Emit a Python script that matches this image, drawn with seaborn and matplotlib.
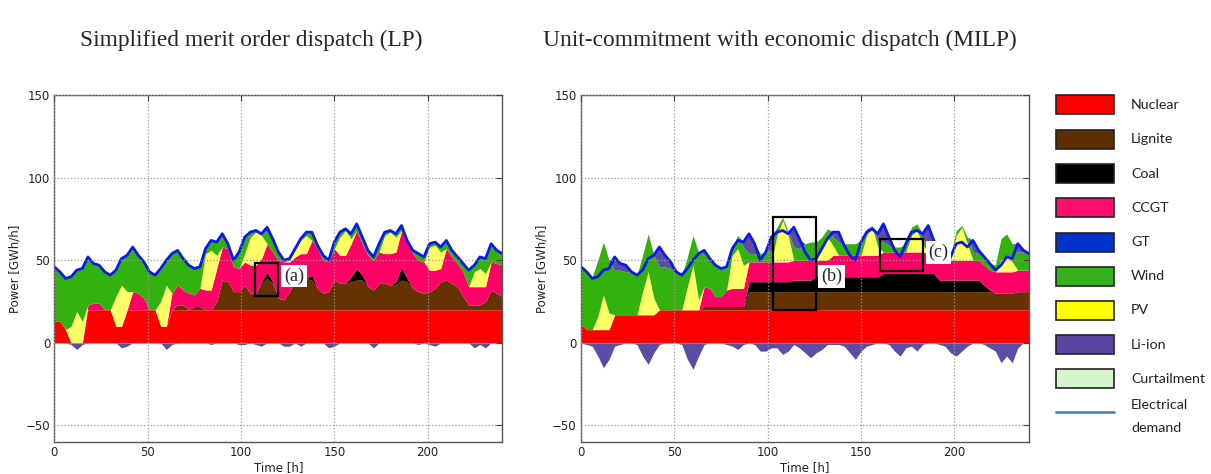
import numpy as np
import matplotlib
matplotlib.use("Agg")
import matplotlib.pyplot as plt
import seaborn as sns
from matplotlib.patches import Rectangle

# ---------------- data (3-hourly samples, hours 0..240) ----------------
hours = np.arange(0, 241, 3)

demand = [46, 43, 39, 40, 44, 45, 52, 48,
          47, 43, 41, 44, 51, 53, 58, 53,
          49, 43, 41, 45, 50, 54, 56, 51,
          47, 45, 46, 57, 62, 61, 66, 60,
          50, 55, 64, 67, 68, 66, 70, 63,
          55, 50, 51, 57, 63, 67, 67, 59,
          53, 50, 61, 67, 69, 66, 72, 64,
          56, 52, 60, 67, 68, 66, 71, 62,
          56, 54, 52, 60, 61, 58, 62, 56,
          52, 48, 44, 47, 52, 51, 60, 56,
          54]

# --- LP (simplified merit order) ---
lp_nuclear = [13, 13, 8, 0, 0, 0, 20, 20,
              20, 20, 20, 10, 10, 20, 20, 20,
              20, 20, 20, 10, 10, 20, 20, 20,
              20, 20, 20, 20, 20, 20, 20, 20,
              20, 20, 20, 20, 20, 20, 20, 20,
              20, 20, 20, 20, 20, 20, 20, 20,
              20, 20, 20, 20, 20, 20, 20, 20,
              20, 20, 20, 20, 20, 20, 20, 20,
              20, 20, 20, 20, 20, 20, 20, 20,
              20, 20, 20, 20, 20, 20, 20, 20,
              20]
lp_lignite = [0, 0, 0, 0, 0, 0, 0, 0,
              0, 0, 0, 0, 0, 0, 0, 0,
              0, 0, 0, 0, 0, 0, 3, 3,
              0, 2, 2, 0, 0, 5, 18, 17,
              11, 11, 15, 10, 10, 16, 19, 16,
              7, 6, 11, 18, 19, 19, 18, 13,
              10, 11, 18, 16, 16, 17, 18, 18,
              14, 12, 16, 16, 15, 15, 18, 17,
              13, 11, 10, 11, 13, 17, 18, 16,
              14, 8, 3, 3, 3, 5, 12, 10,
              8]
lp_coal = [0, 0, 0, 0, 0, 0, 0, 0,
           0, 0, 0, 0, 0, 0, 0, 0,
           0, 0, 0, 0, 0, 0, 0, 0,
           0, 0, 0, 0, 0, 0, 0, 0,
           0, 0, 0, 0, 0, 1, 4, 1,
           0, 0, 0, 0, 0, 0, 3, 0,
           0, 0, 0, 0, 0, 3, 7, 3,
           0, 0, 0, 0, 0, 2, 8, 2,
           0, 0, 0, 0, 0, 0, 0, 0,
           0, 0, 0, 0, 0, 0, 0, 0,
           0]
lp_ccgt = [0, 0, 0, 0, 0, 0, 3, 4,
           4, 0, 0, 0, 0, 0, 11, 10,
           7, 0, 0, 0, 0, 10, 12, 9,
           10, 7, 11, 12, 12, 20, 20, 20,
           15, 14, 14, 17, 17, 14, 17, 18,
           23, 23, 18, 14, 15, 15, 21, 24,
           20, 18, 19, 17, 17, 20, 23, 19,
           19, 18, 19, 18, 19, 18, 22, 22,
           21, 19, 19, 13, 11, 8, 19, 16,
           14, 15, 11, 11, 11, 9, 17, 18,
           19]
lp_pv = [0, 0, 0, 10, 19, 13, 0, 0,
         0, 0, 0, 18, 25, 11, 0, 0,
         0, 0, 0, 15, 25, 0, 0, 0,
         0, 0, 0, 22, 24, 8, 0, 0,
         0, 0, 5, 17, 20, 14, 0, 0,
         0, 0, 1, 4, 8, 11, 0, 0,
         0, 0, 0, 11, 15, 3, 0, 0,
         0, 0, 0, 11, 13, 9, 0, 0,
         0, 0, 0, 14, 15, 10, 0, 0,
         0, 0, 0, 9, 11, 8, 0, 0,
         0]
lp_wind = [33, 30, 31, 30, 25, 32, 29, 23,
           23, 23, 21, 16, 16, 22, 26, 23,
           22, 23, 21, 20, 15, 24, 21, 19,
           17, 16, 13, 3, 6, 8, 7, 3,
           4, 10, 10, 3, 1, 1, 8, 8,
           5, 1, 1, 1, 1, 2, 5, 2,
           3, 1, 4, 3, 1, 3, 3, 4,
           3, 2, 5, 2, 1, 2, 3, 1,
           2, 4, 3, 2, 2, 3, 4, 4,
           4, 5, 10, 4, 7, 9, 10, 8,
           7]
lp_liion = [0, 0, 0, 0, 0, 0, 0, 1,
            0, 0, 0, 0, 0, 0, 1, 0,
            0, 0, 0, 0, 0, 0, 0, 0,
            0, 0, 0, 0, 0, 0, 1, 0,
            0, 0, 0, 0, 0, 0, 2, 0,
            0, 0, 0, 0, 0, 0, 0, 0,
            0, 0, 0, 0, 0, 0, 1, 0,
            0, 0, 0, 0, 0, 0, 0, 0,
            0, 0, 0, 0, 0, 0, 1, 0,
            0, 0, 0, 0, 0, 0, 1, 0,
            0]
lp_charge = [0, 0, 0, -1, -4, -1, 0, 0,
             0, 0, 0, 0, -3, -2, 0, 0,
             0, 0, 0, 0, -4, -1, 0, 0,
             0, 0, 0, 0, -1, 0, 0, 0,
             0, -1, -1, 0, -1, -2, 0, 0,
             0, -2, -2, 0, -2, 0, 0, 0,
             0, -3, -2, 0, 0, 0, 0, 0,
             0, -3, 0, 0, 0, 0, 0, 0,
             0, -1, 0, -1, -2, 0, 0, 0,
             0, 0, 0, -3, -1, -3, 0, 0,
             0]

# --- MILP (unit commitment) ---
uc_nuclear = [11, 8, 8, 8, 8, 8, 17, 17,
              17, 17, 17, 17, 17, 17, 20, 20,
              20, 20, 20, 20, 20, 20, 20, 20,
              20, 20, 20, 20, 20, 20, 20, 20,
              20, 20, 20, 20, 20, 20, 20, 20,
              20, 20, 20, 20, 20, 20, 20, 20,
              20, 20, 20, 20, 20, 20, 20, 20,
              20, 20, 20, 20, 20, 20, 20, 20,
              20, 20, 20, 20, 20, 20, 20, 20,
              20, 20, 20, 20, 20, 20, 20, 20,
              20]
uc_lignite = [0, 0, 0, 0, 0, 0, 0, 0,
              0, 0, 0, 0, 0, 0, 0, 0,
              0, 0, 0, 0, 0, 0, 2, 2,
              2, 2, 2, 2, 2, 2, 11, 11,
              11, 11, 11, 11, 11, 11, 11, 11,
              11, 11, 11, 11, 11, 11, 11, 11,
              11, 11, 11, 11, 11, 11, 11, 11,
              11, 11, 11, 11, 11, 11, 11, 11,
              11, 11, 11, 11, 11, 11, 11, 11,
              11, 11, 10, 10, 10, 10, 11, 11,
              11]
uc_coal = [0, 0, 0, 0, 0, 0, 0, 0,
           0, 0, 0, 0, 0, 0, 0, 0,
           0, 0, 0, 0, 0, 0, 0, 0,
           0, 0, 0, 0, 0, 0, 6, 6,
           6, 6, 6, 6, 6, 6, 7, 7,
           7, 7, 9, 9, 9, 9, 9, 9,
           9, 9, 9, 9, 9, 9, 11, 11,
           11, 11, 11, 11, 11, 11, 11, 11,
           7, 7, 7, 7, 7, 7, 7, 7,
           4, 1, 0, 0, 0, 0, 0, 0,
           0]
uc_ccgt = [0, 0, 0, 0, 0, 0, 0, 0,
           0, 0, 0, 0, 0, 0, 0, 0,
           0, 0, 0, 0, 0, 0, 12, 11,
           6, 6, 10, 11, 11, 11, 12, 12,
           12, 12, 12, 12, 12, 12, 12, 12,
           12, 12, 10, 10, 10, 13, 13, 13,
           13, 13, 13, 13, 13, 13, 13, 13,
           13, 13, 13, 13, 13, 13, 12, 12,
           12, 12, 12, 12, 12, 12, 12, 12,
           12, 12, 13, 13, 13, 13, 13, 13,
           13]
uc_pv = [0, 0, 0, 8, 21, 10, 0, 0,
         0, 0, 0, 14, 26, 10, 0, 0,
         0, 0, 0, 14, 27, 6, 0, 0,
         0, 0, 0, 20, 24, 14, 0, 0,
         0, 0, 0, 16, 25, 16, 0, 0,
         0, 0, 0, 8, 14, 6, 0, 0,
         0, 0, 0, 12, 17, 5, 0, 0,
         0, 0, 0, 10, 13, 5, 0, 0,
         0, 0, 0, 15, 20, 10, 0, 0,
         0, 0, 0, 7, 10, 6, 0, 0,
         0]
uc_wind = [35, 35, 32, 34, 32, 32, 27, 27,
           26, 26, 24, 22, 23, 26, 26, 26,
           25, 23, 21, 18, 18, 29, 20, 18,
           19, 17, 14, 5, 8, 11, 5, 5,
           5, 6, 7, 5, 2, 2, 8, 7,
           10, 11, 11, 6, 5, 5, 8, 7,
           7, 7, 9, 4, 1, 4, 6, 4,
           3, 3, 5, 5, 4, 3, 4, 2,
           4, 3, 3, 3, 1, 4, 5, 4,
           5, 4, 4, 13, 13, 11, 11, 11,
           11]
uc_liion = [0, 0, 0, 0, 0, 0, 8, 4,
            4, 0, 0, 0, 0, 0, 12, 7,
            4, 0, 0, 0, 0, 0, 2, 0,
            0, 0, 0, 0, 0, 3, 12, 6,
            0, 0, 8, 0, 0, 0, 12, 6,
            0, 0, 0, 0, 0, 3, 6, 0,
            0, 0, 0, 0, 0, 4, 11, 5,
            0, 0, 0, 0, 0, 3, 13, 6,
            2, 1, 0, 0, 0, 0, 7, 2,
            0, 0, 0, 0, 0, 0, 5, 1,
            0]
uc_charge = [0, -1, -2, -8, -15, -10, -2, -1,
             0, 0, -1, -8, -13, -6, -1, 0,
             0, 0, -1, -10, -16, -8, -1, 0,
             0, 0, -1, -2, -4, -1, 0, -1,
             -5, -5, -3, -3, -7, -5, -1, -3,
             -6, -9, -6, -4, -1, -1, -1, -2,
             -6, -10, -5, -2, -1, 0, 0, -1,
             -5, -8, -3, -2, -5, -1, 0, 0,
             -1, -2, -6, -8, -5, -2, 0, 0,
             -1, -3, -5, -12, -8, -12, -3, 0,
             0]

legend_labels = ["Nuclear", "Lignite", "Coal", "CCGT", "GT", "Wind", "PV",
                 "Li-ion", "Curtailment"]
legend_colors = ["#ff0000", "#5e2d00", "#000000", "#ff0f6e", "#0033cc",
                 "#34b11c", "#ffff00", "#5b45a2", "#d4f5cd"]

# plot colours
C_NUC, C_LIG, C_COAL, C_CCGT = "#ff0000", "#663300", "#000000", "#ff0066"
C_PV, C_WIND, C_LI, C_DEM = "#ffff66", "#33b20e", "#5b4ca6", "#0a1ae8"

# ---------------- figure ----------------
sns.set_style("white")
plt.rcParams["font.family"] = ["DejaVu Sans"]

W, H = 1211, 474
fig = plt.figure(figsize=(W / 100, H / 100), dpi=100)
axL = fig.add_axes([54.3 / W, 32 / H, 448 / W, 347 / H])
axR = fig.add_axes([581 / W, 32 / H, 448 / W, 347 / H])

panels = [
    (axL, [lp_nuclear, lp_lignite, lp_coal, lp_ccgt, lp_pv, lp_wind, lp_liion], lp_charge),
    (axR, [uc_nuclear, uc_lignite, uc_coal, uc_ccgt, uc_pv, uc_wind, uc_liion], uc_charge),
]
for ax, layers, charge in panels:
    ax.stackplot(hours, *[np.asarray(l, float) for l in layers],
                 colors=[C_NUC, C_LIG, C_COAL, C_CCGT, C_PV, C_WIND, C_LI],
                 linewidth=0)
    ax.fill_between(hours, np.asarray(charge, float), 0, color=C_LI, linewidth=0)
    sns.lineplot(x=hours, y=demand, ax=ax, color=C_DEM, linewidth=2.0)
    ax.set_xlim(0, 240)
    ax.set_ylim(-60, 150)
    ax.set_xticks([0, 50, 100, 150, 200])
    ax.set_yticks([-50, 0, 50, 100, 150])
    ax.grid(True, linestyle=":", color="#9a9a9a", linewidth=0.9)
    ax.set_axisbelow(False)
    for s in ax.spines.values():
        s.set_color("#555555")
        s.set_linewidth(1.0)
    ax.tick_params(direction="in", length=4, labelsize=8.5, top=True, right=True,
                   pad=3, colors="#444444", labelcolor="#222222")
    ax.set_xlabel("Time [h]", fontsize=8.5, labelpad=1, color="#222222")
    ax.set_ylabel("Power [GWh/h]", fontsize=8.5, labelpad=3, color="#222222")

serif = ["Liberation Serif", "DejaVu Serif"]
# annotation boxes
axL.add_patch(Rectangle((107.5, 28.5), 12.3, 19.8, fill=False, lw=1.6, ec="black", zorder=4))
axL.text(128.3, 40.5, "(a)", family=serif, fontsize=13, ha="center", va="center", zorder=5,
         bbox=dict(facecolor="white", edgecolor="none", pad=2))
axR.add_patch(Rectangle((103, 19.6), 23, 56.4, fill=False, lw=1.6, ec="black", zorder=4))
axR.text(134.2, 40.2, "(b)", family=serif, fontsize=13, ha="center", va="center", zorder=5,
         bbox=dict(facecolor="white", edgecolor="none", pad=2))
axR.add_patch(Rectangle((160.3, 43.2), 22.9, 19.8, fill=False, lw=1.6, ec="black", zorder=4))
axR.text(191.5, 54.5, "(c)", family=serif, fontsize=13, ha="center", va="center", zorder=5,
         bbox=dict(facecolor="white", edgecolor="none", pad=2))

# titles
fig.text(251 / W, 1 - 40 / H, "Simplified merit order dispatch (LP)", family=serif,
         fontsize=16.8, ha="center", va="center")
fig.text(780 / W, 1 - 40 / H, "Unit-commitment with economic dispatch (MILP)", family=serif,
         fontsize=16.8, ha="center", va="center")

# legend (drawn in pixel coordinates)
lg = fig.add_axes([0, 0, 1, 1])
lg.set_xlim(0, W)
lg.set_ylim(H, 0)
lg.axis("off")
row_y = [104.8, 139.3, 173.5, 207.8, 242.0, 276.2, 310.4, 344.7, 378.8]
lfont = ["Lato", "DejaVu Sans"]
for lab, col, yc in zip(legend_labels, legend_colors, row_y):
    lg.add_patch(Rectangle((1056, yc - 9.5), 58, 19, facecolor=col, edgecolor="#222222", lw=1.2))
    lg.text(1131, yc, lab, family=lfont, fontsize=10.3, ha="left", va="center",
            color="#222222")
lg.plot([1056, 1114], [412.3, 412.3], color="#4f81d0", lw=2)
lg.text(1131, 405, "Electrical", family=lfont, fontsize=10.3, ha="left",
        va="center", color="#222222")
lg.text(1131, 428, "demand", family=lfont, fontsize=10.3, ha="left",
        va="center", color="#222222")

fig.savefig("out.png", dpi=100)
